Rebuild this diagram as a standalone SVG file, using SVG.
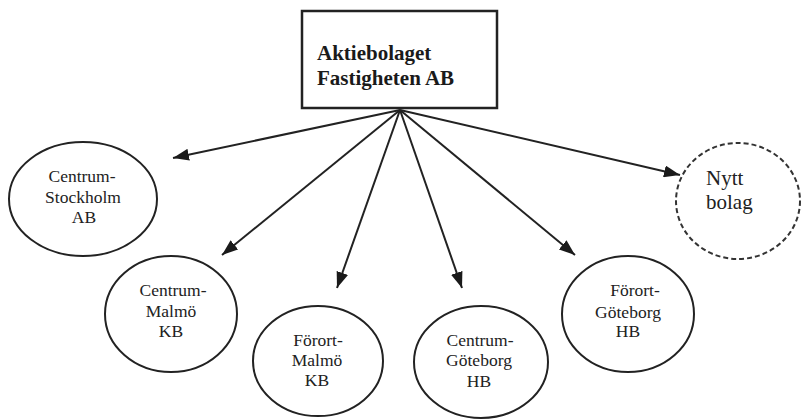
<svg xmlns="http://www.w3.org/2000/svg" width="802" height="420" viewBox="0 0 802 420">
<style>
.bg{fill:#ffffff}
.box{fill:#ffffff;stroke:#222;stroke-width:2.5}
.node{fill:#ffffff;stroke:#222;stroke-width:2}
.dashed{fill:#ffffff;stroke:#333;stroke-width:2;stroke-dasharray:5 3}
.t{font-family:"Liberation Serif","Times New Roman",serif;font-size:17.5px;fill:#222;text-anchor:middle}
.tb{font-family:"Liberation Serif","Times New Roman",serif;font-size:21px;font-weight:bold;fill:#1a1a1a}
.tn{font-family:"Liberation Serif","Times New Roman",serif;font-size:21px;fill:#222}
.edge{stroke:#222;stroke-width:2;fill:none;marker-end:url(#arrow)}
</style>
<defs>
<marker id="arrow" markerUnits="userSpaceOnUse" markerWidth="16" markerHeight="12" viewBox="0 0 16 12" refX="16" refY="6" orient="auto">
<path d="M0,0 L16,6 L0,12 Z" fill="#1a1a1a"/>
</marker>
</defs>
<rect class="bg" x="0" y="0" width="802" height="420"/>
<g id="connectors">
<line class="edge" x1="400" y1="110" x2="173" y2="158"/>
<line class="edge" x1="400" y1="110" x2="222" y2="255"/>
<line class="edge" x1="400" y1="110" x2="337" y2="288"/>
<line class="edge" x1="400" y1="110" x2="462" y2="288"/>
<line class="edge" x1="400" y1="110" x2="575" y2="255"/>
<line class="edge" x1="400" y1="110" x2="680" y2="175"/>
</g>
<g id="parent">
<rect class="box" x="302" y="11" width="195" height="97"/>
<text class="tb" x="317" y="60">Aktiebolaget</text>
<text class="tb" x="317" y="85">Fastigheten AB</text>
</g>
<g id="centrum-stockholm">
<ellipse class="node" cx="83" cy="199" rx="74" ry="57"/>
<text class="t" x="82" y="182">Centrum-</text>
<text class="t" x="83" y="203">Stockholm</text>
<text class="t" x="84" y="223">AB</text>
</g>
<g id="centrum-malmo">
<ellipse class="node" cx="171" cy="314" rx="66" ry="58"/>
<text class="t" x="173" y="296">Centrum-</text>
<text class="t" x="171" y="317">Malmö</text>
<text class="t" x="171" y="337">KB</text>
</g>
<g id="forort-malmo">
<ellipse class="node" cx="318" cy="361" rx="65" ry="55"/>
<text class="t" x="318" y="346">Förort-</text>
<text class="t" x="317" y="366">Malmö</text>
<text class="t" x="317" y="386">KB</text>
</g>
<g id="centrum-goteborg">
<ellipse class="node" cx="481" cy="362" rx="67" ry="56"/>
<text class="t" x="480" y="346">Centrum-</text>
<text class="t" x="479" y="366">Göteborg</text>
<text class="t" x="479" y="387">HB</text>
</g>
<g id="forort-goteborg">
<ellipse class="node" cx="628" cy="314" rx="66" ry="58"/>
<text class="t" x="635" y="296">Förort-</text>
<text class="t" x="628" y="318">Göteborg</text>
<text class="t" x="628" y="337">HB</text>
</g>
<g id="nytt-bolag">
<ellipse class="dashed" cx="738" cy="201" rx="62" ry="58"/>
<text class="tn" x="706" y="185">Nytt</text>
<text class="tn" x="706" y="209">bolag</text>
</g>
</svg>
